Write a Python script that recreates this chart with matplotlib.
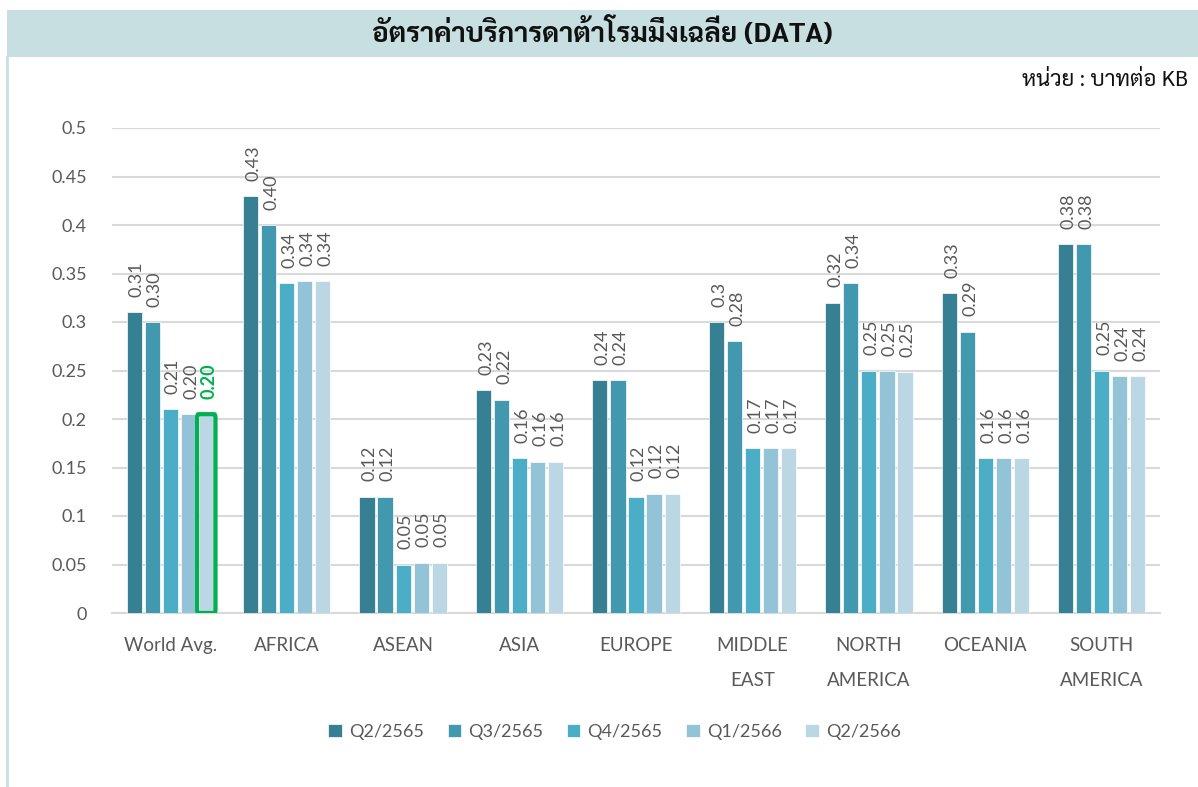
import matplotlib
matplotlib.use('Agg')
import matplotlib.pyplot as plt
import numpy as np
from matplotlib.patches import FancyBboxPatch

categories = ['World Avg.', 'AFRICA', 'ASEAN', 'ASIA', 'EUROPE',
              'MIDDLE\nEAST', 'NORTH\nAMERICA', 'OCEANIA', 'SOUTH\nAMERICA']
series_names = ['Q2/2565', 'Q3/2565', 'Q4/2565', 'Q1/2566', 'Q2/2566']

q2_2565 = [0.31, 0.43, 0.12, 0.23, 0.24, 0.30, 0.32, 0.33, 0.38]
q3_2565 = [0.30, 0.40, 0.12, 0.22, 0.24, 0.28, 0.34, 0.29, 0.38]
q4_2565 = [0.21, 0.34, 0.05, 0.16, 0.12, 0.17, 0.25, 0.16, 0.25]
q1_2566 = [0.205, 0.342, 0.052, 0.156, 0.123, 0.17, 0.249, 0.16, 0.244]
q2_2566 = [0.205, 0.342, 0.052, 0.156, 0.123, 0.17, 0.248, 0.16, 0.244]

lbl_q2_2565 = ['0.31', '0.43', '0.12', '0.23', '0.24', '0.3', '0.32', '0.33', '0.38']
lbl_q3_2565 = ['0.30', '0.40', '0.12', '0.22', '0.24', '0.28', '0.34', '0.29', '0.38']
lbl_q4_2565 = ['0.21', '0.34', '0.05', '0.16', '0.12', '0.17', '0.25', '0.16', '0.25']
lbl_q1_2566 = ['0.20', '0.34', '0.05', '0.16', '0.12', '0.17', '0.25', '0.16', '0.24']
lbl_q2_2566 = ['0.20', '0.34', '0.05', '0.16', '0.12', '0.17', '0.25', '0.16', '0.24']

colors = ['#377F93', '#4298AF', '#4CADC7', '#93C3D6', '#BAD7E3']
yticks = [0, 0.05, 0.1, 0.15, 0.2, 0.25, 0.3, 0.35, 0.4, 0.45, 0.5]
ytick_labels = ['0', '0.05', '0.1', '0.15', '0.2', '0.25', '0.3', '0.35', '0.4', '0.45', '0.5']

highlight_series = 4
highlight_cat = 0

title = 'อัตราค่าบริการดาต้าโรมมิ่งเฉลี่ย (DATA)'
unit_text = 'หน่วย : บาทต่อ KB'

thai = ['Sarabun', 'IBM Plex Sans Thai', 'DejaVu Sans']
latin = ['Lato', 'DejaVu Sans']
grey = '#595959'
green = '#00B050'

fig = plt.figure(figsize=(11.98, 7.87), dpi=100)

# title band
band = fig.add_axes([7 / 1198, 1 - 57 / 787, 1 - 7 / 1198, 47 / 787])
band.set_facecolor('#C8DFE2')
band.set_xticks([])
band.set_yticks([])
for s in band.spines.values():
    s.set_visible(False)
band.text(0.5, 0.5, title, ha='center', va='center', fontsize=20,
          fontweight='bold', family=thai, color='#111111', transform=band.transAxes)

# left border
fig.add_artist(plt.Line2D([7 / 1198, 7 / 1198], [0, 1 - 57 / 787], color='#C8DFE2', lw=2))

fig.text(1188 / 1198, 1 - 80 / 787, unit_text, ha='right', va='center',
         fontsize=16, family=thai, color='#111111')

ax = fig.add_axes([112 / 1198, 1 - 613 / 787, 1048 / 1198, 485 / 787])
series = [q2_2565, q3_2565, q4_2565, q1_2566, q2_2566]
labels = [lbl_q2_2565, lbl_q3_2565, lbl_q4_2565, lbl_q1_2566, lbl_q2_2566]
x = np.arange(len(categories))
step = 0.155
width = 0.13
for i, (vals, lbls) in enumerate(zip(series, labels)):
    xs = x + (i - 2) * step
    bars = ax.bar(xs, vals, width, color=colors[i], edgecolor='white', linewidth=0.5,
                  label=series_names[i], zorder=3)
    for j, (b, t) in enumerate(zip(bars, lbls)):
        hl = (i == highlight_series and j == highlight_cat)
        ax.annotate(t, (b.get_x() + b.get_width() / 2, b.get_height()),
                    xytext=(2, 11), textcoords='offset points', rotation=90,
                    ha='center', va='bottom', fontsize=13, family=latin,
                    color=green if hl else grey,
                    fontweight='bold' if hl else 'normal')
        if hl:
            pad = 0.014
            ax.add_patch(FancyBboxPatch((b.get_x() - pad, 0), b.get_width() + 2 * pad,
                                        b.get_height(),
                                        boxstyle='round,pad=0,rounding_size=0.012',
                                        fill=False, edgecolor=green, lw=3, zorder=4,
                                        mutation_aspect=0.3))

ax.set_xlim(-0.5, len(categories) - 0.5)
ax.set_ylim(0, 0.5)
ax.set_yticks(yticks)
ax.set_yticklabels(ytick_labels)
ax.set_xticks(x)
ax.set_xticklabels(categories, linespacing=2.3, va='top')
for s in ['top', 'right', 'left']:
    ax.spines[s].set_visible(False)
ax.spines['bottom'].set_color('#D9D9D9')
ax.spines['bottom'].set_linewidth(1.5)
ax.grid(axis='y', color='#D9D9D9', lw=1.5, zorder=0)
ax.tick_params(axis='both', length=0, colors=grey, labelsize=13)
ax.tick_params(axis='x', pad=17, labelsize=13.5)
ax.tick_params(axis='y', pad=18)
for t in ax.get_xticklabels() + ax.get_yticklabels():
    t.set_family(latin)

fig.legend(loc='center', bbox_to_anchor=(0.513, 1 - 732 / 787), ncol=5, frameon=False,
           handlelength=0.75, handleheight=0.75, handletextpad=0.4, columnspacing=1.3,
           prop={'family': latin, 'size': 13}, labelcolor=grey)

fig.savefig('out.png', dpi=100)
